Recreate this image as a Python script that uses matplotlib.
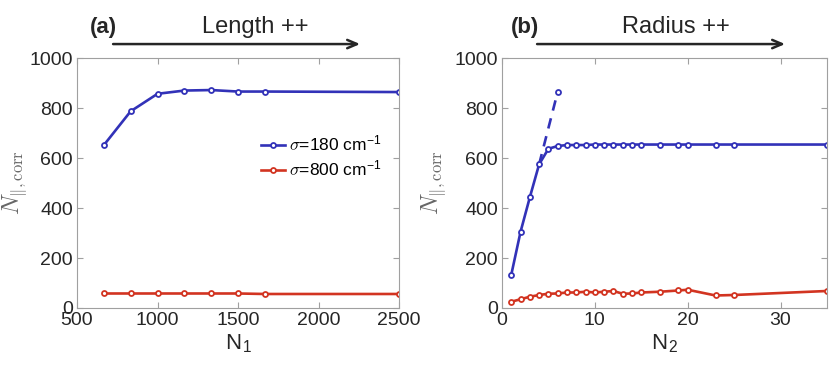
import matplotlib
matplotlib.use('Agg')
import matplotlib.pyplot as plt
import numpy as np

plt.rcParams['font.family'] = ['Liberation Sans', 'DejaVu Sans']
plt.rcParams['mathtext.fontset'] = 'cm'

# panel (a): length sweep
n1 = [667, 833, 1000, 1167, 1333, 1500, 1667, 2500]
a_sig180 = [652, 787, 857, 870, 872, 866, 866, 864]
a_sig800 = [58, 58, 58, 58, 58, 58, 56, 56]

# panel (b): radius sweep
n2 = [1, 2, 3, 4, 5, 6, 7, 8, 9, 10, 11, 12, 13, 14, 15, 17, 19, 20, 23, 25, 35]
b_sig180 = [133, 305, 443, 575, 637, 648, 652, 652, 652, 654, 654, 654, 654,
            654, 654, 654, 654, 654, 654, 654, 654]
b_sig800 = [25, 35, 45, 52, 57, 58, 62, 62, 65, 62, 65, 68, 57, 58, 62, 65,
            70, 73, 50, 52, 68]
# dashed extrapolation
dash_x = [4, 6]
dash_y = [575, 865]

blue = '#3232b8'
red = '#d23421'
gray = '#a0a0a0'
txt = '#262626'

fig = plt.figure(figsize=(8.3, 3.67), dpi=100)
ax1 = fig.add_axes([0.0928, 0.1608, 0.388, 0.681])
ax2 = fig.add_axes([0.6048, 0.1608, 0.3916, 0.681])

mk = dict(marker='o', markersize=3.6, markerfacecolor='white', markeredgewidth=1.3, lw=1.9)

ax1.plot(n1, a_sig180, color=blue, label=r'$\sigma$=180 cm$^\mathregular{-1}$', **mk)
ax1.plot(n1, a_sig800, color=red, label=r'$\sigma$=800 cm$^\mathregular{-1}$', **mk)
ax1.set_xlim(500, 2500)
ax1.set_xticks([500, 1000, 1500, 2000, 2500])
ax1.set_xlabel('N$_\\mathregular{1}$', fontsize=16, color=txt, labelpad=2)

ax2.plot(dash_x, dash_y, color=blue, lw=1.9, ls=(0, (4, 3)))
ax2.plot([dash_x[-1]], [dash_y[-1]], color=blue, marker='o', markersize=3.6,
         markerfacecolor='white', markeredgewidth=1.3, ls='none')
ax2.plot(n2, b_sig180, color=blue, **mk)
ax2.plot(n2, b_sig800, color=red, **mk)
ax2.set_xlim(0, 35)
ax2.set_xticks([0, 10, 20, 30])
ax2.set_xlabel('N$_\\mathregular{2}$', fontsize=16, color=txt, labelpad=2)

leg = ax1.legend(loc='upper left', bbox_to_anchor=(0.55, 0.725), frameon=False,
                 fontsize=12.5, handlelength=1.4, handletextpad=0.2, labelspacing=0.3,
                 borderaxespad=0)

for ax in (ax1, ax2):
    ax.set_ylim(0, 1000)
    ax.set_yticks([0, 200, 400, 600, 800, 1000])
    ax.set_ylabel(r'$N_{\|,\rm corr}$', fontsize=17, color='#666666')
    ax.tick_params(direction='in', top=True, right=True, length=4, width=0.8,
                   color=gray, labelsize=14, labelcolor=txt, pad=3)
    for s in ax.spines.values():
        s.set_color(gray)
        s.set_linewidth(0.8)

ax1.yaxis.set_label_coords(-0.15, 0.5)
ax2.yaxis.set_label_coords(-0.165, 0.5)

# header labels and arrows
heads = [(ax1, '(a)', 0.081, 'Length ++', 0.553, 0.112, 0.879),
         (ax2, '(b)', 0.071, 'Radius ++', 0.535, 0.108, 0.871)]
for ax, tag, tx, lab, lx, ax0, ax1_ in heads:
    ax.text(tx, 1.124, tag, transform=ax.transAxes, ha='center', va='center',
            fontsize=16, fontweight='bold', color=txt)
    ax.text(lx, 1.124, lab, transform=ax.transAxes, ha='center', va='center',
            fontsize=17, color=txt)
    ax.annotate('', xy=(ax1_, 1.056), xytext=(ax0, 1.056), xycoords='axes fraction',
                textcoords='axes fraction', annotation_clip=False,
                arrowprops=dict(arrowstyle='->,head_length=0.7,head_width=0.3',
                                lw=1.8, color=txt, shrinkA=0, shrinkB=0))

fig.savefig('out.png', dpi=100)
